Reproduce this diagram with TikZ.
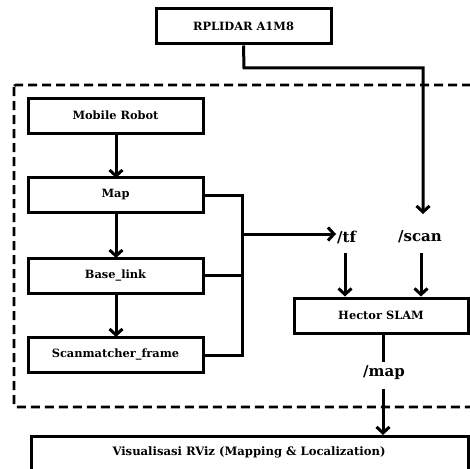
\documentclass[tikz,border=0pt]{standalone}
\usepackage{fontspec}
\setmainfont{DejaVu Serif}
\usetikzlibrary{arrows.meta}
\begin{document}
\begin{tikzpicture}[x=1pt,y=-1pt,
  box/.style={draw,line width=3pt,minimum width=175pt,minimum height=35pt,inner sep=0pt,font=\bfseries\fontsize{11.4}{13}\selectfont},
  lbl/.style={inner sep=1pt,font=\bfseries\fontsize{15}{17}\selectfont},
  ln/.style={line width=3pt},
  arr/.style={line width=3pt,-{Straight Barb[length=6pt,width=13pt,line width=3pt]}},
  dsh/.style={line width=2.6pt,dash pattern=on 9pt off 5pt,rounded corners=2pt}]
\useasboundingbox (0,0) rectangle (470,468);
\clip (0,0) rectangle (470,468);
% group
\draw[dsh] (14,85) rectangle (490,407);
\node[box] (rp) at (243.5,26.5) {RPLIDAR A1M8};
\node[box] (mr) at (115.5,115.5) {Mobile Robot};
\node[box] (map) at (115.5,195) {Map};
\node[box] (base) at (115.5,275.5) {Base\_link};
\node[box] (smf) at (115.5,355) {Scanmatcher\_frame};
\node[box,minimum width=174pt] (hs) at (381,315.5) {Hector SLAM};
\node[box,minimum width=437pt,minimum height=40pt,anchor=north west] (viz) at (30,435) {};
\node[font=\bfseries\fontsize{11.6}{13}\selectfont] (viztxt) at (249,452) {Visualisasi RViz (Mapping \& Localization)};
\node[lbl,anchor=west] (tf) at (336,237) {/tf};
\node[lbl] (scan) at (420,237) {/scan};
\node[lbl] (mp) at (384,373) {/map};
\coordinate (j) at (242,234);
% connectors
\draw[arr] (116,133) -- (116,178);
\draw[arr] (116,212) -- (116,258);
\draw[arr] (116,293) -- (116,337);
\draw[ln] (map.east) -| (j);
\draw[ln] (smf.east) -| (j);
\draw[ln] (base.east) -- (base.east -| j);
\draw[arr] (j) -- (tf.west |- j);
\draw[arr] (rp.south) -- (244,68) -| (423,214);
\draw[arr] (345,253) -- (hs.north -| 345,0);
\draw[arr] (421,253) -- (hs.north -| 421,0);
\draw[ln] (hs.south -| 383,0) -- (383,362);
\draw[arr] (383,389) -- (viz.north -| 383,0);
\end{tikzpicture}
\end{document}
